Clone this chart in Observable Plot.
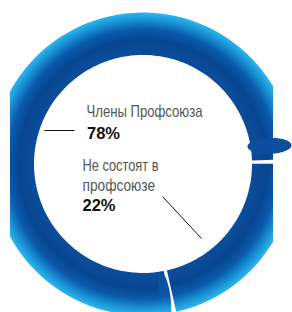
<!DOCTYPE html>
<html>
<head>
<meta charset="utf-8">
<script src="https://cdn.jsdelivr.net/npm/d3@7"></script>
<script src="https://cdn.jsdelivr.net/npm/@observablehq/plot@0.6"></script>
<style>
  html, body { margin: 0; padding: 0; background: #fff; }
  #chart svg { display: block; }
</style>
</head>
<body>
<div id="chart"></div>
<script>
// ---- data ----
const categories = ["Члены Профсоюза", "Не состоят в\nпрофсоюзе"];
const values = [78, 22];
const pctLabels = ["78%", "22%"];

// ---- layout ----
const W = 292, H = 312;
const cx = 142.5, cy = 163.5, ri = 109, ro = 151.5;
const startDeg = 168.2;
const pad = 0.03;

const pie = d3.pie().sort(null).value(d => d.value)
  .startAngle(startDeg * Math.PI / 180)
  .endAngle(startDeg * Math.PI / 180 + 2 * Math.PI);
const arcs = pie(categories.map((c, i) => ({cat: c, value: values[i]})));

const pt = (a, r) => ({x: cx + r * Math.sin(a), y: cy - r * Math.cos(a)});

const ringRows = [];
arcs.forEach((a, i) => {
  const a0 = a.startAngle + pad / 2, a1 = a.endAngle - pad / 2;
  const n = 160;
  for (let k = 0; k <= n; k++) ringRows.push({slice: i, ...pt(a0 + (a1 - a0) * k / n, ro)});
  for (let k = n; k >= 0; k--) ringRows.push({slice: i, ...pt(a0 + (a1 - a0) * k / n, ri)});
});

// tube end caps (ellipses on the slice ends)
function capRows(angle, id, rc, A, B, shift) {
  const rows = [];
  const ux = Math.sin(angle), uy = -Math.cos(angle);
  const vx = Math.cos(angle), vy = Math.sin(angle);
  const c = {x: cx + rc * ux + shift * vx, y: cy + rc * uy + shift * vy};
  for (let k = 0; k <= 80; k++) {
    const t = 2 * Math.PI * k / 80;
    rows.push({cap: id, x: c.x + A * Math.cos(t) * ux + B * Math.sin(t) * vx,
                        y: c.y + A * Math.cos(t) * uy + B * Math.sin(t) * vy});
  }
  return rows;
}
const capRight = capRows(arcs[0].endAngle - pad / 2, 0, 127, 22, 8, -14);
const capBottom = capRows(arcs[1].endAngle + pad / 2, 1, 130, 21, 5, 3);

const font = "'Liberation Sans', Arial, sans-serif";

const nameRows1 = [{t: categories[0], x: 86, y: 116}];
const nameRows2 = [{t: categories[1], x: 82, y: 190}];
const pctRows = [
  {t: pctLabels[0], x: 86.5, y: 138},
  {t: pctLabels[1], x: 82, y: 210}
];
const leaders = [
  {x1: 44, y1: 130, x2: 74, y2: 130},
  {x1: 162, y1: 196, x2: 201, y2: 238}
];
// target widths of label lines (condensed face in the original)
const lineWidths = {"Члены Профсоюза": 116, "Не состоят в": 76, "профсоюзе": 72.5};

const svg = Plot.plot({
  width: W, height: H,
  marginLeft: 10, marginRight: 19, marginTop: 0, marginBottom: 0,
  x: {domain: [0, W], range: [0, W], axis: null},
  y: {domain: [0, H], range: [0, H], axis: null},
  style: {background: "#fff", overflow: "visible"},
  marks: [
    Plot.line(ringRows, {x: "x", y: "y", z: "slice", fill: "url(#ringGrad)", stroke: "none", curve: "linear", clip: "frame"}),
    Plot.line(capBottom, {x: "x", y: "y", z: "cap", fill: "url(#capGrad)", stroke: "none", clip: "frame"}),
    Plot.line(capRight, {x: "x", y: "y", z: "cap", fill: "#0b4e9e", stroke: "none"}),
    Plot.link(leaders, {x1: "x1", y1: "y1", x2: "x2", y2: "y2", stroke: "#111", strokeWidth: 1}),
    Plot.text(nameRows1, {x: "x", y: "y", text: "t", textAnchor: "start", lineAnchor: "bottom",
      fontFamily: font, fontSize: 16.5, fill: "#555"}),
    Plot.text(nameRows2, {x: "x", y: "y", text: "t", textAnchor: "start", lineAnchor: "bottom", lineHeight: 1.15,
      fontFamily: font, fontSize: 17, fill: "#555"}),
    Plot.text(pctRows, {x: "x", y: "y", text: "t", textAnchor: "start", lineAnchor: "bottom",
      fontFamily: font, fontWeight: "bold", fontSize: 16.5, fill: "#111"})
  ]
});

const defs = d3.select(svg).insert("defs", ":first-child");
const g = defs.append("radialGradient").attr("id", "ringGrad")
  .attr("gradientUnits", "userSpaceOnUse")
  .attr("cx", cx).attr("cy", cy).attr("r", ro);
[[0, "#0b4d9c"], [0.72, "#0b4d9c"], [0.82, "#074690"], [0.89, "#0a5aac"], [0.95, "#1890d4"], [1, "#2cb6ee"]]
  .forEach(([o, c]) => g.append("stop").attr("offset", o).attr("stop-color", c));
const g2 = defs.append("linearGradient").attr("id", "capGrad")
  .attr("x1", 0).attr("y1", 0).attr("x2", 0).attr("y2", 1);
[[0, "#0a4d9c"], [0.6, "#0c58aa"], [1, "#29b2ea"]]
  .forEach(([o, c]) => g2.append("stop").attr("offset", o).attr("stop-color", c));

document.getElementById("chart").appendChild(svg);

// condense the label lines to the original's narrow face
svg.querySelectorAll("text, tspan").forEach(el => {
  const s = el.textContent;
  if (el.tagName === "text" && el.querySelector("tspan")) return;
  if (lineWidths[s] != null) {
    el.setAttribute("textLength", lineWidths[s]);
    el.setAttribute("lengthAdjust", "spacingAndGlyphs");
  }
});
</script>
</body>
</html>
